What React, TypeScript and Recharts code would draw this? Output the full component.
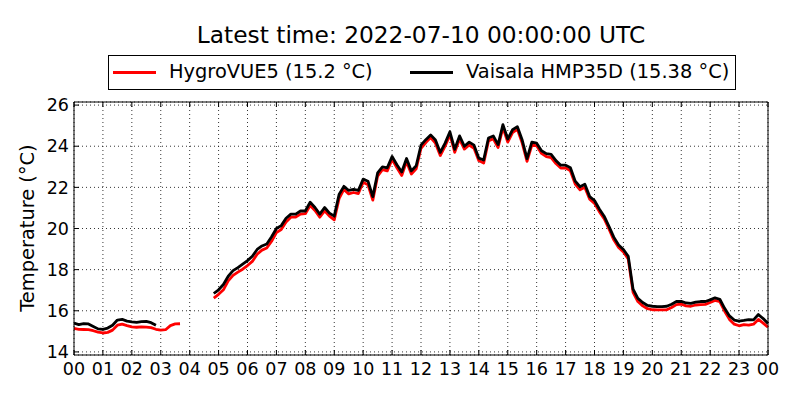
import { LineChart, Line, XAxis, YAxis, CartesianGrid } from 'recharts'

const FONT = '"DejaVu Sans", sans-serif'

// 10-minute samples from 00:00 to 24:00 UTC, null where a sensor has no data
const hygroVue: (number | null)[] = [
  15.14, 15.10, 15.09, 15.08, 15.03, 14.96,
  14.92, 14.95, 15.06, 15.30, 15.35, 15.28,
  15.22, 15.20, 15.22, 15.21, 15.18, 15.10,
  15.06, 15.08, 15.28, 15.36, 15.37, null,
  null, null, null, null, null, 16.62,
  16.80, 17.02, 17.45, 17.72, 17.88, 18.02,
  18.20, 18.40, 18.75, 18.95, 19.05, 19.38,
  19.80, 19.95, 20.32, 20.55, 20.56, 20.70,
  20.72, 21.12, 20.88, 20.55, 20.86, 20.60,
  20.42, 21.45, 21.90, 21.68, 21.75, 21.70,
  22.25, 22.12, 21.38, 22.55, 22.86, 22.80,
  23.36, 22.95, 22.58, 23.25, 22.65, 22.90,
  23.90, 24.18, 24.42, 24.15, 23.55, 24.00,
  24.56, 23.70, 24.35, 23.86, 24.06, 23.90,
  23.30, 23.18, 24.26, 24.36, 23.94, 24.90,
  24.20, 24.66, 24.82, 24.15, 23.26, 24.06,
  24.02, 23.65, 23.50, 23.45, 23.16, 22.94,
  22.95, 22.80, 22.16, 21.88, 22.00, 21.42,
  21.22, 20.82, 20.48, 19.98, 19.45, 19.08,
  18.86, 18.52, 16.90, 16.45, 16.24, 16.10,
  16.05, 16.04, 16.04, 16.05, 16.16, 16.30,
  16.32, 16.24, 16.22, 16.28, 16.30, 16.31,
  16.40, 16.50, 16.45, 15.98, 15.58, 15.35,
  15.27, 15.33, 15.30, 15.35, 15.58, 15.40,
  15.20,
]

const vaisalaHmp: (number | null)[] = [
  15.40, 15.33, 15.38, 15.36, 15.24, 15.12,
  15.10, 15.16, 15.30, 15.55, 15.58, 15.50,
  15.46, 15.44, 15.47, 15.48, 15.42, 15.30,
  null, null, null, null, null, null,
  null, null, null, null, null, 16.84,
  17.02, 17.28, 17.68, 17.95, 18.10, 18.27,
  18.44, 18.65, 18.98, 19.15, 19.25, 19.60,
  20.00, 20.14, 20.50, 20.70, 20.70, 20.85,
  20.85, 21.28, 21.02, 20.70, 21.02, 20.75,
  20.60, 21.65, 22.05, 21.85, 21.90, 21.85,
  22.40, 22.30, 21.55, 22.70, 23.00, 22.95,
  23.50, 23.10, 22.75, 23.40, 22.80, 23.05,
  24.05, 24.32, 24.55, 24.30, 23.70, 24.15,
  24.70, 23.85, 24.50, 24.00, 24.20, 24.05,
  23.42, 23.33, 24.40, 24.50, 24.08, 25.05,
  24.35, 24.80, 24.95, 24.30, 23.40, 24.20,
  24.15, 23.78, 23.64, 23.60, 23.30, 23.08,
  23.08, 22.95, 22.30, 22.03, 22.15, 21.55,
  21.36, 20.95, 20.60, 20.10, 19.58, 19.20,
  18.98, 18.65, 17.05, 16.60, 16.40, 16.26,
  16.22, 16.20, 16.20, 16.22, 16.32, 16.45,
  16.46, 16.38, 16.36, 16.42, 16.45, 16.45,
  16.53, 16.63, 16.56, 16.12, 15.75, 15.55,
  15.50, 15.53, 15.57, 15.56, 15.82, 15.62,
  15.38,
]

const hourTicks = [0, 1, 2, 3, 4, 5, 6, 7, 8, 9, 10, 11, 12, 13, 14, 15, 16, 17, 18, 19, 20, 21, 22, 23, 24]
const hourLabels = [
  '00', '01', '02', '03', '04', '05', '06', '07', '08', '09', '10', '11',
  '12', '13', '14', '15', '16', '17', '18', '19', '20', '21', '22', '23', '00',
]
const tempTicks = [14, 16, 18, 20, 22, 24, 26]

const TITLE = 'Latest time: 2022-07-10 00:00:00 UTC'
const Y_LABEL = 'Temperature (°C)'
const SERIES = [
  { key: 'hygro', name: 'HygroVUE5 (15.2 °C)', color: '#ff0000' },
  { key: 'vaisala', name: 'Vaisala HMP35D (15.38 °C)', color: '#000000' },
]

const data = vaisalaHmp.map((v, i) => ({ hour: i / 6, hygro: hygroVue[i], vaisala: v }))

const tickStyle = { fill: '#000', fontSize: 17.5, fontFamily: FONT }
const blank = () => ''

function LegendBox() {
  const item = (s: typeof SERIES[number], lineX: number, textX: number) => (
    <div key={s.key}>
      <div style={{ position: 'absolute', left: lineX, top: 15, width: 43, height: 3, background: s.color }} />
      <div style={{ position: 'absolute', left: textX, top: 6, fontSize: 19.4, lineHeight: '19.4px', whiteSpace: 'nowrap' }}>
        {s.name}
      </div>
    </div>
  )
  return (
    <div
      style={{
        position: 'absolute', left: 108, top: 55, width: 628, height: 35,
        border: '1px solid #000', boxSizing: 'border-box', background: '#fff',
      }}
    >
      {item(SERIES[0], 4, 60)}
      {item(SERIES[1], 301, 357)}
    </div>
  )
}

export default function App() {
  return (
    <div style={{ position: 'absolute', left: 0, top: 0, width: 800, height: 400, background: '#fff', fontFamily: FONT, color: '#000' }}>
      <div style={{ position: 'absolute', left: 74, top: 23, width: 694, textAlign: 'center', fontSize: 23.3, lineHeight: '23.3px', whiteSpace: 'nowrap' }}>
        {TITLE}
      </div>
      <LegendBox />
      <div
        style={{
          position: 'absolute', left: 28, top: 228, fontSize: 19.4, lineHeight: '19.4px', whiteSpace: 'nowrap',
          transform: 'translate(-50%, -50%) rotate(-90deg)',
        }}
      >
        {Y_LABEL}
      </div>
      <div style={{ position: 'absolute', left: 0, top: 0 }}>
        <LineChart width={800} height={400} data={data} margin={{ top: 92, right: 22, bottom: 5, left: 14 }}>
          <CartesianGrid stroke="#000" strokeDasharray="1 3" strokeWidth={0.8} />
          <XAxis
            dataKey="hour" type="number" domain={[0, 24]} ticks={hourTicks} interval={0}
            tickFormatter={(v: number) => hourLabels[hourTicks.indexOf(v)]}
            height={40} tickSize={-5} tickMargin={13}
            axisLine={{ stroke: '#000' }} tickLine={{ stroke: '#000' }} tick={tickStyle}
          />
          <XAxis
            xAxisId="top" orientation="top" dataKey="hour" type="number" domain={[0, 24]} ticks={hourTicks} interval={0}
            height={10} tickSize={-5} tickFormatter={blank}
            axisLine={{ stroke: '#000' }} tickLine={{ stroke: '#000' }} tick={tickStyle}
          />
          <YAxis
            type="number" domain={[13.85, 26.15]} ticks={tempTicks} interval={0}
            width={60} tickSize={-5} tickMargin={10}
            axisLine={{ stroke: '#000' }} tickLine={{ stroke: '#000' }} tick={tickStyle}
          />
          <YAxis
            yAxisId="right" orientation="right" type="number" domain={[13.85, 26.15]} ticks={tempTicks} interval={0}
            width={10} tickSize={-5} tickFormatter={blank}
            axisLine={{ stroke: '#000' }} tickLine={{ stroke: '#000' }} tick={tickStyle}
          />
          {SERIES.map(s => (
            <Line
              key={s.key}
              dataKey={s.key}
              name={s.name}
              type="linear"
              stroke={s.color}
              strokeWidth={2.8}
              strokeLinejoin="round"
              dot={false}
              activeDot={false}
              connectNulls={false}
              isAnimationActive={false}
            />
          ))}
        </LineChart>
      </div>
    </div>
  )
}
